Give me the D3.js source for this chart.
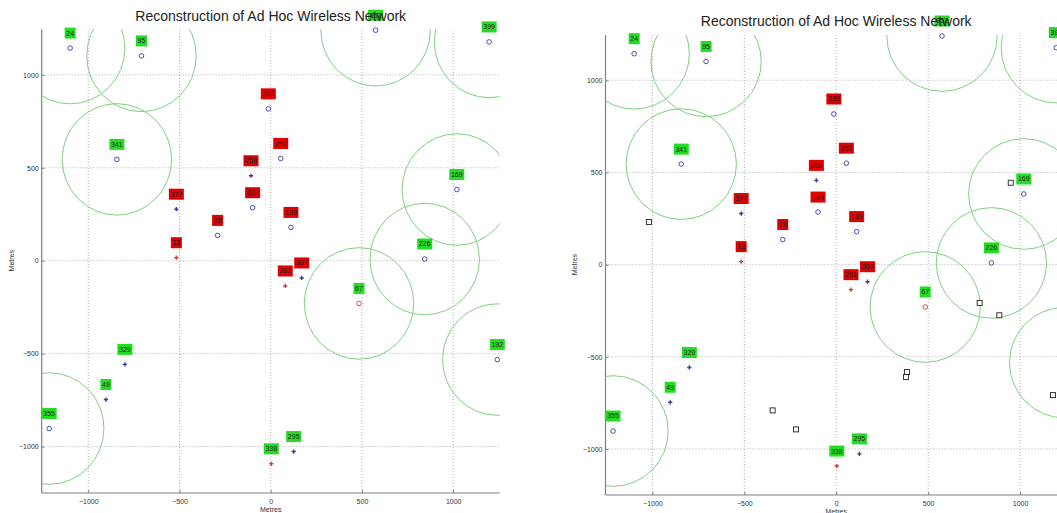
<!DOCTYPE html>
<html><head><meta charset="utf-8">
<script src="https://cdn.jsdelivr.net/npm/d3@7/dist/d3.min.js"></script>
<style>body{margin:0;background:#fff;overflow:hidden}svg{display:block}</style>
</head><body>
<svg id="chart" width="1057" height="513"></svg>
<script>
// ---- data ----
const nodeIds    = ["24","95","341","288","257","258","377","324","78","139","13","352","399","169","226","261","367","67","192","329","49","355","338","295"];
const nodeX      = [-1099,-708,-843,-13,55,-108,-517,-99,-291,111,-517,575,1197,1020,844,80,170,484,1242,-799,-903,-1214,3,126];
const nodeY      = [1144,1102,545,817,550,457,277,285,136,179,16,1240,1177,383,9,-136,-93,-230,-532,-558,-747,-903,-1093,-1027];
const nodeMarker = ["o","o","o","o","o","*","*","o","o","o","*","o","o","o","o","*","*","o","o","*","*","o","*","*"];
const nodeColor  = ["b","b","b","b","b","b","b","b","b","b","r","b","b","b","b","r","b","r","b","b","b","b","r","b"];
const labelColor = ["g","g","g","r","r","r","r","r","r","r","r","g","g","g","g","r","r","g","g","g","g","g","g","g"];
const hasRange   = [1,1,1,0,0,0,0,0,0,0,0,1,1,1,1,0,0,1,1,0,0,1,0,0];
const rangeRadius = 300;
const squareX = [-1019,949,780,887,385,379,-346,-219,1179];
const squareY = [231,444,-208,-275,-583,-610,-791,-894,-708];
const xTicks = [-1000,-500,0,500,1000];
const yTicks = [-1000,-500,0,500,1000];
const titleText = "Reconstruction of Ad Hoc Wireless Network";
const axisLabel = "Metres";

const svg = d3.select("#chart");
const panels = [
  {id:"L", xr:[41.7,499.7], yr:[493,29.3], xd:[-1255,1255], yd:[-1250,1245], titleY:21, tickY:502, xlabY:511.5, ylabX:14, squares:false},
  {id:"R", xr:[605.5,1067], yr:[495,35.1], xd:[-1255,1255], yd:[-1250,1245], titleY:26, tickY:504.5, xlabY:514, ylabX:577, squares:true}
];
const font = "'Liberation Sans', Arial, sans-serif";
const col = {b:"#3a3aa8", r:"#d04040"};
const lab = {g:"#22dd22", r:"#e00000"};

panels.forEach(p => {
  const x = d3.scaleLinear().domain(p.xd).range(p.xr);
  const y = d3.scaleLinear().domain(p.yd).range(p.yr);
  const g = svg.append("g");
  const defs = svg.append("defs");
  defs.append("clipPath").attr("id","clip"+p.id).append("rect")
    .attr("x",p.xr[0]).attr("y",p.yr[1]).attr("width",p.xr[1]-p.xr[0]).attr("height",p.yr[0]-p.yr[1]);

  // grid
  g.selectAll(".gx").data(xTicks).join("line")
    .attr("x1",d=>x(d)).attr("x2",d=>x(d)).attr("y1",p.yr[0]).attr("y2",p.yr[1])
    .attr("stroke","#9a9a9a").attr("stroke-width",0.8).attr("stroke-dasharray","1,2");
  g.selectAll(".gy").data(yTicks).join("line")
    .attr("y1",d=>y(d)).attr("y2",d=>y(d)).attr("x1",p.xr[0]).attr("x2",p.xr[1])
    .attr("stroke","#9a9a9a").attr("stroke-width",0.8).attr("stroke-dasharray","1,2");

  // axes
  const ax = g.append("g").attr("transform",`translate(0,${p.yr[0]})`)
    .call(d3.axisBottom(x).tickValues(xTicks).tickSize(-3).tickFormat(d3.format("d")));
  const ay = g.append("g").attr("transform",`translate(${p.xr[0]},0)`)
    .call(d3.axisLeft(y).tickValues(yTicks).tickSize(-3).tickFormat(d3.format("d")));
  [ax,ay].forEach(a=>{
    a.attr("color","#333");
    a.select(".domain").attr("stroke","#808080").attr("stroke-width",1.2);
    a.selectAll(".tick line").attr("stroke","#808080");
    a.selectAll(".tick text").attr("fill","#333").style("font-family",font).style("font-size","7px");
  });
  ax.select(".domain").attr("d",`M${p.xr[0]},0H${p.xr[1]}`);
  ay.select(".domain").attr("d",`M0,${p.yr[0]}V${p.yr[1]}`);
  ax.selectAll(".tick text").attr("y",6);
  ay.selectAll(".tick text").attr("x",-3).attr("dy","0.32em");

  const cx = x(0);
  g.append("text").attr("x",cx).attr("y",p.xlabY).attr("text-anchor","middle")
    .style("font-family",font).style("font-size","7px").attr("fill","#333").text(axisLabel);
  g.append("text").attr("transform",`translate(${p.ylabX},${y(0)}) rotate(-90)`).attr("text-anchor","middle")
    .style("font-family",font).style("font-size","7px").attr("fill","#333").text(axisLabel);

  const idx = d3.range(nodeIds.length);
  // range circles
  g.append("g").attr("clip-path",`url(#clip${p.id})`).selectAll("ellipse")
    .data(idx.filter(i=>hasRange[i])).join("ellipse")
    .attr("cx",i=>x(nodeX[i])).attr("cy",i=>y(nodeY[i]))
    .attr("rx",x(rangeRadius)-x(0)).attr("ry",y(0)-y(rangeRadius))
    .attr("fill","none").attr("stroke","#7fcf7f").attr("stroke-width",1);

  // squares (right panel only)
  if (p.squares) {
    g.selectAll(".sq").data(d3.range(squareX.length)).join("rect")
      .attr("x",i=>x(squareX[i])-2.5).attr("y",i=>y(squareY[i])-2.5)
      .attr("width",5).attr("height",5).attr("fill","#fff").attr("stroke","#222").attr("stroke-width",0.9);
  }

  // node markers
  idx.forEach(i=>{
    const px = x(nodeX[i]), py = y(nodeY[i]), c = col[nodeColor[i]];
    if (nodeMarker[i]==="o") {
      g.append("circle").attr("cx",px).attr("cy",py).attr("r",2.3)
        .attr("fill","none").attr("stroke",c).attr("stroke-width",0.9);
    } else {
      g.append("path").attr("d",d3.symbol(d3.symbolCross, 10)())
        .attr("transform",`translate(${px},${py})`).attr("fill",c);
    }
    const w = nodeIds[i].length*4+3, h = 11;
    const lx = px, ly = py-15;
    g.append("rect").attr("x",lx-w/2).attr("y",ly-h/2).attr("width",w).attr("height",h)
      .attr("fill",lab[labelColor[i]]);
    g.append("text").attr("x",lx).attr("y",ly).attr("dy","0.35em").attr("text-anchor","middle")
      .style("font-family",font).style("font-size","7px").attr("fill","#222").text(nodeIds[i]);
  });

  // title drawn over the top label, as in the reference
  g.append("text").attr("x",cx).attr("y",p.titleY).attr("text-anchor","middle")
    .style("font-family",font).style("font-size","14px").attr("fill","#222").text(titleText);
});
</script>
</body></html>
